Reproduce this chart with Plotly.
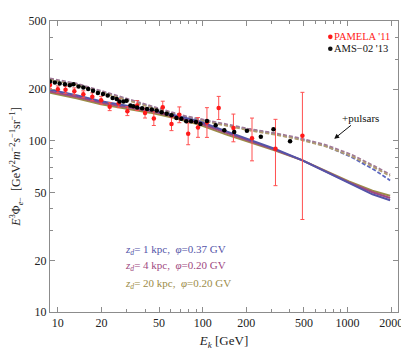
import numpy as np
import plotly.graph_objects as go

# PAMELA '11 electron data (E [GeV], E^3 flux, upper / lower error ends)
pam_e = [8.83, 10.0, 11.3, 13.0, 15.0, 17.3, 19.9, 22.8, 26.3, 30.2, 35.3, 40.0,
         46.0, 53.0, 60.9, 69.0, 79.4, 92.8, 107, 129, 163, 219, 318, 488]
pam_v = [212.2, 199.8, 198.5, 194.5, 187.0, 180.8, 172.6, 158.3, 165.8, 149.1, 160.9, 145.2,
         134.9, 157.3, 125.4, 141.9, 109.8, 119.7, 127.9, 155.6, 118.9, 103.4, 89.9, 106.9]
pam_hi = [222.3, 209.3, 208.0, 203.8, 195.9, 190.7, 182.0, 167.0, 176.0, 158.3, 172.0, 155.2,
          148.1, 170.4, 137.1, 157.8, 127.1, 136.7, 156.2, 181.8, 143.3, 135.8, 133.5, 192.0]
pam_lo = [202.5, 190.7, 189.5, 185.6, 178.5, 171.4, 163.7, 150.1, 156.2, 140.4, 150.5, 135.9,
          122.9, 145.2, 114.7, 127.6, 94.9, 104.8, 104.7, 133.2, 98.7, 76.4, 54.7, 34.7]

# AMS-02 '13 electron data
ams_e = [8.83, 9.54, 10.3, 11.2, 12.1, 12.8, 13.9, 15.0, 16.2, 17.5, 18.9, 20.5, 22.1, 23.9,
         25.5, 26.7, 28.4, 29.8, 31.7, 33.2, 35.3, 38.2, 41.3, 44.6, 48.2, 52.1, 56.4, 60.9,
         65.9, 71.2, 77.0, 83.2, 89.9, 96.5, 107, 123, 141, 165, 202, 252, 308, 401]
ams_v = [222, 219, 216, 214, 211, 214, 208, 205, 200.6, 196.4, 190, 187.7, 183.7, 178,
         175.6, 170, 169.5, 171.5, 160.9, 159.4, 156.6, 155, 153.6, 152.4, 150.5, 147.1, 144.0, 141.1,
         135.8, 134.6, 130, 130, 128.8, 125.4, 130.5, 123.3, 115.3, 112.7, 114.7, 105.5, 116.8, 99.3]

# model curves without pulsars
mod_e = [8.83, 13.45, 19.85, 29.3, 43.3, 63.9, 94.3, 146, 222, 313, 484, 714, 1022, 1486, 1967]
z1_v = [198.5, 184.5, 170.3, 160.4, 152.1, 141.3, 130.0, 113.5, 100.0, 89.9, 77.2, 65.8, 56.4, 48.7, 45.0]
z4_v = [194.5, 180.8, 166.9, 157.2, 149.1, 138.5, 127.1, 111.2, 98.7, 88.9, 77.2, 66.2, 57.2, 50.1, 46.3]
z20_v = [190.7, 177.3, 163.6, 154.1, 146.1, 135.8, 124.3, 108.7, 97.4, 88.1, 77.2, 66.6, 58.0, 51.1, 47.8]

# model curves + pulsars
psr_e = [8.83, 13.45, 19.85, 29.3, 43.3, 72.3, 123, 205, 328, 484, 714, 1068, 1556, 1967]
z1_psr = [229.0, 214.0, 194.0, 175.5, 157.8, 139.4, 127.5, 116.6, 109.1, 102.0, 93.0, 80.3, 67.1, 58.7]
z4_psr = [231.3, 216.4, 196.0, 177.3, 159.4, 140.8, 128.8, 117.8, 110.2, 103.1, 94.4, 83.0, 70.7, 63.6]
z20_psr = [226.7, 212.1, 192.1, 173.8, 156.2, 138.0, 126.2, 115.4, 108.0, 101.0, 92.5, 81.3, 69.3, 62.3]

x_ticks = [10, 20, 50, 100, 200, 500, 1000, 2000]
y_ticks = [10, 20, 50, 100, 200, 500]
x_minor = [30, 40, 60, 70, 80, 90, 300, 400, 600, 700, 800, 900]
y_minor = [30, 40, 60, 70, 80, 90, 300, 400]

blue = '#5454a8'
purple = '#a04880'
olive = '#9c8c48'
serif = 'Liberation Serif'

fig = go.Figure()

for v, c in [(z1_psr, '#5a66c0'), (z4_psr, '#a07898'), (z20_psr, '#b09c70')]:
    fig.add_trace(go.Scatter(x=psr_e, y=v, mode='lines',
                             line=dict(color=c, width=1.8, dash='4px,2px')))
for v, c in [(z20_v, olive), (z4_v, purple), (z1_v, blue)]:
    fig.add_trace(go.Scatter(x=mod_e, y=v, mode='lines', line=dict(color=c, width=2)))

pam_v_arr = np.array(pam_v)
fig.add_trace(go.Scatter(
    x=pam_e, y=pam_v, mode='markers',
    marker=dict(color='#ff1a1a', size=4.5),
    error_y=dict(type='data', symmetric=False,
                 array=np.array(pam_hi) - pam_v_arr,
                 arrayminus=pam_v_arr - np.array(pam_lo),
                 color='#ff5050', thickness=1, width=2),
))
fig.add_trace(go.Scatter(x=ams_e, y=ams_v, mode='markers',
                         marker=dict(color='black', size=4.5)))

axis_style = dict(type='log', showgrid=False, zeroline=False, showline=True,
                  linecolor='#8c8c8c', linewidth=1, mirror='ticks', ticks='inside',
                  ticklen=5, tickcolor='#8c8c8c', tickfont=dict(family=serif, size=12, color='#222'))

fig.update_xaxes(**axis_style, range=[np.log10(8.83), np.log10(2230)],
                 tickvals=x_ticks, ticktext=[str(t) for t in x_ticks],
                 minor=dict(tickvals=x_minor, ticks='inside', ticklen=3, tickcolor='#8c8c8c'),
                 title=dict(text='<i>E<sub>k</sub></i> [GeV]', font=dict(family=serif, size=13, color='#222'),
                            standoff=6))
fig.update_yaxes(**axis_style, range=[1, 2.70],
                 tickvals=y_ticks, ticktext=[str(t) for t in y_ticks],
                 minor=dict(tickvals=y_minor, ticks='inside', ticklen=3, tickcolor='#8c8c8c'),
                 title=dict(text='<i>E</i><sup>3</sup>Φ<sub><i>e</i>−</sub>  '
                                 '[GeV<sup>2</sup><i>m</i><sup>−2</sup><i>s</i><sup>−1</sup>sr<sup>−1</sup>]',
                            font=dict(family=serif, size=12, color='#222'), standoff=6))

annotations = [
    dict(x=0.811, y=0.9456, xref='paper', yref='paper', xanchor='left', yanchor='middle',
         text="PAMELA '11", showarrow=False, font=dict(family=serif, size=10.5, color='#ff1a1a')),
    dict(x=0.811, y=0.9048, xref='paper', yref='paper', xanchor='left', yanchor='middle',
         text="AMS−02 '13", showarrow=False, font=dict(family=serif, size=10.5, color='#111')),
    dict(x=0.2085, y=0.1837, xref='paper', yref='paper', showarrow=False,
         text='<i>z<sub>d</sub></i>= 1 kpc,\u00a0 <i>φ</i>=0.37 GV',
         font=dict(family=serif, size=11, color=blue)),
    dict(x=0.2085, y=0.1282, xref='paper', yref='paper', showarrow=False,
         text='<i>z<sub>d</sub></i>= 4 kpc,\u00a0 <i>φ</i>=0.20 GV',
         font=dict(family=serif, size=11, color=purple)),
    dict(x=0.2085, y=0.067, xref='paper', yref='paper', showarrow=False,
         text='<i>z<sub>d</sub></i>= 20 kpc,\u00a0 <i>φ</i>=0.20 GV',
         font=dict(family=serif, size=11, color=olive)),
    dict(x=np.log10(809), y=np.log10(102.7), xref='x', yref='y', ax=26, ay=-21,
         text='+pulsars', showarrow=True, arrowhead=2, arrowsize=1, arrowwidth=1,
         arrowcolor='#111', font=dict(family=serif, size=11, color='#111')),
]

shapes = []
for yp, c in [(0.9456, '#ff1a1a'), (0.9048, '#111')]:
    shapes.append(dict(type='circle', xref='paper', yref='paper', xsizemode='pixel', ysizemode='pixel',
                       xanchor=0.8055, yanchor=yp, x0=-2.3, x1=2.3, y0=-2.3, y1=2.3,
                       fillcolor=c, line=dict(width=0)))

# the page body adds an 8px offset, so the figure is 8px smaller on each axis
fig.update_layout(
    width=401, height=347,
    margin=dict(l=40, r=6, t=10, b=43),
    paper_bgcolor='white', plot_bgcolor='white',
    showlegend=False,
    font=dict(family=serif),
    annotations=annotations,
    shapes=shapes,
)

fig.write_html('out.html')
